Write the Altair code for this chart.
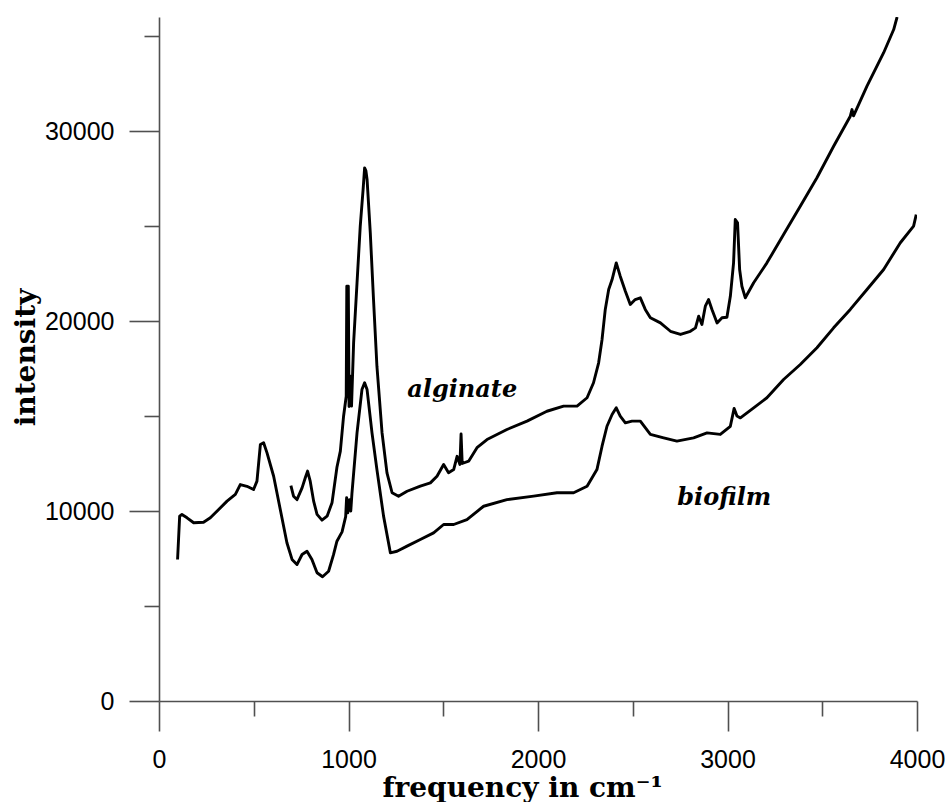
import altair as alt
import pandas as pd

# Raman spectra (intensity vs. wavenumber)
biofilm_x = [98, 109, 121, 148, 183, 235, 271, 315, 359, 403, 429, 464, 499, 517,
             535, 552, 570, 605, 640, 675, 702, 728, 755, 781, 807, 834, 863, 895,
             921, 939, 966, 985, 990, 996, 1005, 1012, 1018, 1045, 1071, 1085, 1098,
             1124, 1150, 1185, 1221, 1256, 1309, 1379, 1449, 1502, 1555, 1625, 1713,
             1836, 1977, 2100, 2188, 2259, 2311, 2338, 2364, 2391, 2413, 2434, 2461,
             2496, 2540, 2593, 2663, 2733, 2821, 2892, 2962, 3015, 3035, 3050, 3068,
             3138, 3208, 3296, 3384, 3472, 3560, 3648, 3736, 3824, 3912, 3982, 3996]
biofilm_y = [7450, 9730, 9815, 9640, 9380, 9410, 9640, 10080, 10520, 10870, 11390,
             11300, 11130, 11570, 13500, 13590, 13060, 11830, 10080, 8330, 7450, 7180,
             7710, 7880, 7450, 6750, 6540, 6830, 7700, 8410, 8900, 9700, 10700, 9900,
             10600, 10000, 10900, 14110, 16390, 16750, 16390, 14110, 12180, 9730, 7800,
             7880, 8150, 8500, 8850, 9290, 9290, 9550, 10250, 10600, 10780, 10960,
             10960, 11300, 12180, 13410, 14460, 15080, 15430, 14990, 14640, 14730,
             14730, 14030, 13850, 13680, 13850, 14110, 14030, 14460, 15400, 15000,
             14900, 15430, 15960, 16920, 17710, 18590, 19640, 20610, 21660, 22710,
             24120, 24990, 25600]

alginate_x = [696, 710, 728, 755, 772, 784, 798, 816, 834, 860, 887, 913, 939, 957,
              974, 988, 991, 999, 1003, 1010, 1016, 1027, 1045, 1062, 1077, 1085,
              1092, 1098, 1115, 1132, 1150, 1177, 1203, 1230, 1264, 1309, 1379, 1432,
              1467, 1502, 1528, 1555, 1573, 1588, 1594, 1600, 1634, 1678, 1731, 1836,
              1942, 2047, 2135, 2206, 2259, 2293, 2320, 2338, 2355, 2373, 2391, 2413,
              2434, 2461, 2487, 2513, 2540, 2566, 2593, 2646, 2699, 2752, 2804, 2831,
              2848, 2865, 2883, 2900, 2918, 2945, 2971, 2997, 3015, 3032, 3041, 3053,
              3064, 3076, 3094, 3138, 3208, 3296, 3384, 3472, 3560, 3648, 3657, 3665,
              3736, 3824, 3877, 3895]
alginate_y = [11340, 10780, 10600, 11220, 11750, 12100, 11570, 10520, 9820, 9520,
              9730, 10430, 12300, 13150, 14990, 16040, 21830, 21830, 15500, 17090,
              15520, 18850, 22010, 24990, 26920, 28060, 27900, 27450, 24640, 21130,
              17620, 14120, 12010, 10960, 10780, 11040, 11310, 11480, 11830, 12450,
              12010, 12180, 12880, 12450, 14050, 12500, 12620, 13330, 13760, 14290,
              14730, 15250, 15520, 15520, 15960, 16750, 17800, 19030, 20610, 21660,
              22180, 23060, 22360, 21570, 20870, 21130, 21220, 20610, 20170, 19900,
              19460, 19290, 19460, 19640, 20250, 19820, 20780, 21130, 20610, 19900,
              20170, 20200, 21300, 23060, 25340, 25170, 22710, 21830, 21220, 22010,
              23060, 24550, 26040, 27540, 29200, 30780, 31130, 30800, 32360, 34120,
              35340, 36000]

# Curve labels
label_names = ["alginate", "biofilm"]
label_x = [1310, 2735]
label_y = [16000, 10300]

# Axis tick positions (labels only on the major ones)
x_tick_values = [0, 500, 1000, 1500, 2000, 2500, 3000, 3500, 4000]
y_tick_values = [0, 5000, 10000, 15000, 20000, 25000, 30000, 35000]

spectra = pd.concat([
    pd.DataFrame({"freq": biofilm_x, "intensity": biofilm_y, "sample": "biofilm"}),
    pd.DataFrame({"freq": alginate_x, "intensity": alginate_y, "sample": "alginate"}),
])
labels = pd.DataFrame({"name": label_names, "freq": label_x, "intensity": label_y})

axis_gray = "#505050"

x_axis = alt.Axis(
    values=x_tick_values,
    format="d",
    labelExpr="datum.value % 1000 === 0 ? datum.label : ''",
    labelOverlap=False,
    labelFlush=False,
    labelFont="Liberation Sans",
    labelFontSize=25,
    labelColor="black",
    labelPadding=16,
    tickSize={"condition": {"test": "datum.value % 1000 === 0", "value": 30}, "value": 15},
    tickColor=axis_gray,
    tickWidth=1.6,
    domainColor=axis_gray,
    domainWidth=1.6,
    grid=False,
    title="frequency in cm⁻¹",
    titleFont="DejaVu Serif",
    titleFontWeight="bold",
    titleFontSize=28,
    titleColor="black",
    titleAlign="left",
    titleBaseline="alphabetic",
    titleX=223,
    titleY=95,
)

y_axis = alt.Axis(
    values=y_tick_values,
    format="d",
    labelExpr="datum.value % 10000 === 0 ? datum.label : ''",
    labelOverlap=False,
    labelFlush=False,
    labelFont="Liberation Sans",
    labelFontSize=25,
    labelColor="black",
    labelPadding=15,
    tickSize={"condition": {"test": "datum.value % 10000 === 0", "value": 30}, "value": 15},
    tickColor=axis_gray,
    tickWidth=1.6,
    domainColor=axis_gray,
    domainWidth=1.6,
    grid=False,
    title="intensity",
    titleFont="DejaVu Serif",
    titleFontWeight="bold",
    titleFontSize=28,
    titleColor="black",
    titleAngle=270,
    titleAlign="center",
    titleBaseline="alphabetic",
    titleX=-125,
    titleY=340,
)

x_scale = alt.Scale(domain=[0, 4000], nice=False, zero=False)
y_scale = alt.Scale(domain=[0, 36000], nice=False)

lines = alt.Chart(spectra).mark_line(
    color="black", strokeWidth=2.9, strokeJoin="round", clip=True
).encode(
    x=alt.X("freq:Q", scale=x_scale, axis=x_axis),
    y=alt.Y("intensity:Q", scale=y_scale, axis=y_axis),
    detail="sample:N",
)

texts = alt.Chart(labels).mark_text(
    font="DejaVu Serif",
    fontStyle="italic",
    fontWeight="bold",
    fontSize=24,
    align="left",
    baseline="alphabetic",
    color="black",
).encode(
    x=alt.X("freq:Q", scale=x_scale),
    y=alt.Y("intensity:Q", scale=y_scale),
    text="name:N",
)

chart = (
    alt.layer(lines, texts)
    .properties(
        width=758,
        height=684,
        autosize=alt.AutoSizeParams(type="none"),
        padding={"left": 159, "top": 17, "right": 29, "bottom": 101},
        background="white",
    )
    .configure_view(strokeOpacity=0)
)

chart.save("out.html", embed_options={"renderer": "svg", "actions": False})
